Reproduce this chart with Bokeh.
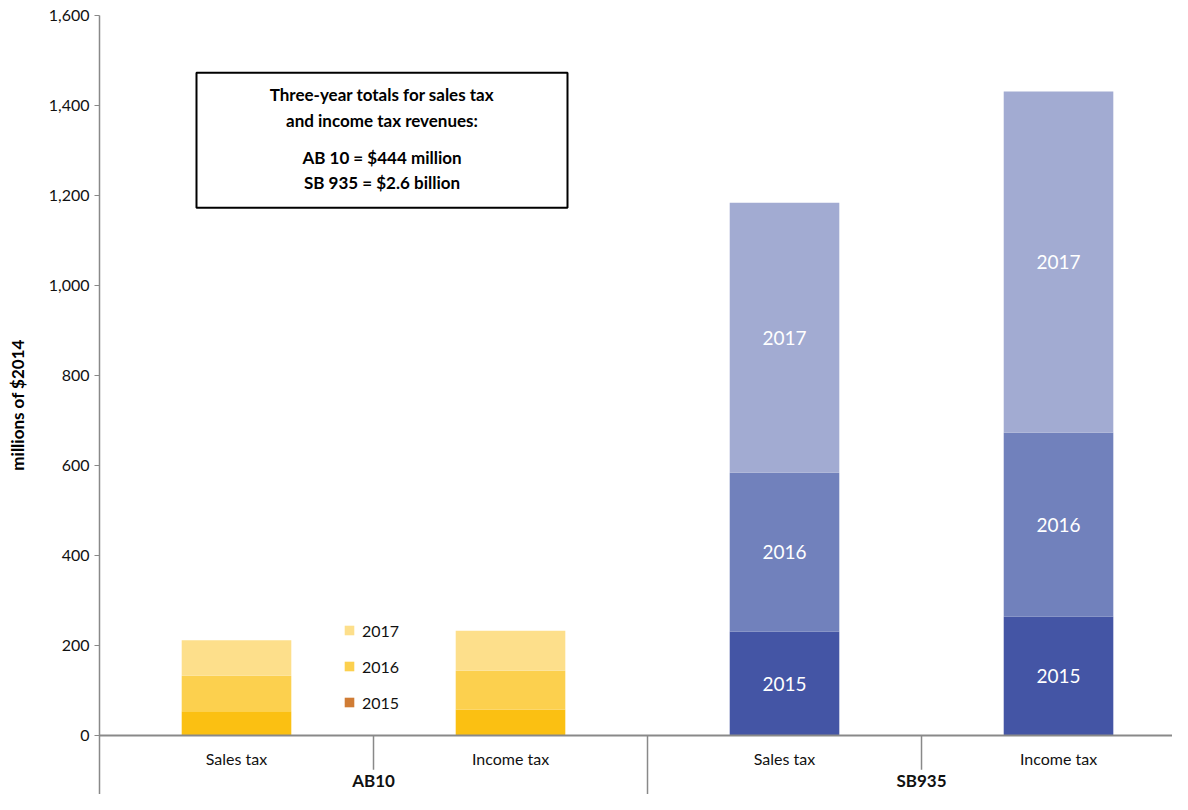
import numpy as np
from bokeh.plotting import figure
from bokeh.models import (ColumnDataSource, Range1d, FixedTicker, NumeralTickFormatter,
                          Legend, LegendItem, BoxAnnotation, Label)
from bokeh.core.properties import value
from bokeh.embed import file_html
from bokeh.resources import INLINE

# ---- data ----
categories = ["Sales tax", "Income tax", "Sales tax", "Income tax"]
groups = ["AB10", "AB10", "SB935", "SB935"]
years = ["2015", "2016", "2017"]
v2015 = [54, 58, 231, 264]
v2016 = [79, 86, 353, 409]
v2017 = [79, 89, 600, 758]
y_ticks = [0, 200, 400, 600, 800, 1000, 1200, 1400, 1600]
box_lines = ["Three-year totals for sales tax", "and income tax revenues:",
             "AB 10 = $444 million", "SB 935 = $2.6 billion"]

group_colors = {
    "AB10": ["#FBC012", "#FCD04E", "#FDDF8B"],
    "SB935": ["#4455A5", "#7181BC", "#A2ABD2"],
}
legend_colors = ["#D07C35", "#FCD04E", "#FDDF8B"]

FONT = "Lato"
GRAY = "#898989"

n = len(categories)
xs = np.arange(n) + 0.5
vals = np.array([v2015, v2016, v2017], dtype=float)
tops = np.cumsum(vals, axis=0)
bottoms = tops - vals

x_end = 3.916
y_start = -131
p = figure(width=1172, height=794, output_backend="svg", toolbar_location=None,
           x_range=Range1d(0, x_end), y_range=Range1d(y_start, 1600),
           min_border_left=99, min_border_right=0, min_border_top=15, min_border_bottom=0)
p.outline_line_color = None
p.xgrid.visible = False
p.ygrid.visible = False
p.xaxis.visible = False

# bars
bx, bb, bt, bc = [], [], [], []
for k in range(3):
    for i in range(n):
        bx.append(xs[i]); bb.append(bottoms[k, i]); bt.append(tops[k, i])
        bc.append(group_colors[groups[i]][k])
p.vbar(x="x", bottom="b", top="t", width=0.4, fill_color="c", line_color=None,
       source=ColumnDataSource(dict(x=bx, b=bb, t=bt, c=bc)))

# labels inside SB935 bars
lx, ly, lt = [], [], []
for k in range(3):
    for i in range(n):
        if groups[i] == "SB935":
            lx.append(xs[i]); ly.append((bottoms[k, i] + tops[k, i]) / 2); lt.append(years[k])
p.text(x="x", y="y", text="t", source=ColumnDataSource(dict(x=lx, y=ly, t=lt)),
       text_color="white", text_font=value(FONT), text_font_size="19px",
       text_align="center", text_baseline="middle")

# category axis (drawn)
p.segment(x0=[0], y0=[0], x1=[x_end], y1=[0], line_color=GRAY, line_width=2)
sep_x, sep_y1 = [], []
for i in range(1, n):
    sep_x.append(float(i))
    sep_y1.append(y_start if groups[i] != groups[i - 1] else -76)
p.segment(x0=sep_x, y0=[0] * len(sep_x), x1=sep_x, y1=sep_y1, line_color=GRAY, line_width=1.5)
p.text(x=list(xs), y=[-52] * n, text=categories, text_font=value(FONT), text_font_size="16px",
       text_color="#111111", text_align="center", text_baseline="middle")
ugroups = list(dict.fromkeys(groups))
gx = [float(np.mean([xs[i] for i in range(n) if groups[i] == g])) for g in ugroups]
p.text(x=gx, y=[-101] * len(gx), text=ugroups, text_font=value(FONT), text_font_size="17px",
       text_font_style="bold", text_color="#111111", text_align="center", text_baseline="middle")

# y axis
yax = p.yaxis[0]
yax.ticker = FixedTicker(ticks=y_ticks)
yax.formatter = NumeralTickFormatter(format="0,0")
yax.bounds = (y_start, 1600)
yax.axis_line_color = GRAY
yax.axis_line_width = 1.5
yax.major_tick_line_color = GRAY
yax.major_tick_out = 5
yax.major_tick_in = 0
yax.minor_tick_line_color = None
yax.major_label_text_font = FONT
yax.major_label_text_font_size = "16px"
yax.major_label_text_color = "#111111"
yax.axis_label = "millions of $2014"
yax.axis_label_text_font = FONT
yax.axis_label_text_font_size = "17px"
yax.axis_label_text_font_style = "bold"
yax.axis_label_text_color = "#000000"
yax.axis_label_standoff = 18

# legend with custom swatches
items = []
for k in [2, 1, 0]:
    r = p.vbar(x=[np.nan], top=[np.nan], width=0.1, fill_color=legend_colors[k], line_color=None)
    items.append(LegendItem(label=years[k], renderers=[r]))
legend = Legend(items=items, location=(244, 82), glyph_width=12, glyph_height=12,
                label_height=20, spacing=16, padding=0, margin=0, label_standoff=7,
                border_line_color=None, background_fill_alpha=0,
                label_text_font=FONT, label_text_font_size="16px", label_text_color="#111111")
p.add_layout(legend)

# text box
box = BoxAnnotation(left=0.354, right=1.708, bottom=1173, top=1473, fill_color="white",
                    fill_alpha=1, line_color="black", line_alpha=1, line_width=2)
p.add_layout(box)
for txt, yy in zip(box_lines, [1424, 1366, 1284, 1228]):
    p.add_layout(Label(x=1.031, y=yy, text=txt, text_align="center", text_baseline="middle",
                       text_font=FONT, text_font_size="17px", text_font_style="bold",
                       text_color="#000000"))

open("out.html", "w").write(file_html(p, INLINE))
